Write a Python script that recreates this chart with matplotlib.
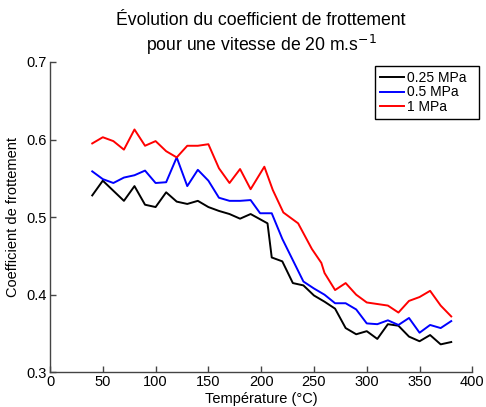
import matplotlib
matplotlib.use('Agg')
import matplotlib.pyplot as plt

plt.rcParams['font.family'] = ['Liberation Sans', 'DejaVu Sans']

# Friction coefficient vs temperature, one series per contact pressure
temp_025 = [40, 50, 60, 70, 80, 90, 100, 110, 120, 130, 140, 150, 160, 170, 180, 190,
            198, 206, 210, 220, 230, 240, 250, 260, 270, 280, 290, 300, 310, 320, 330,
            340, 350, 360, 370, 380]
mu_025 = [0.528, 0.547, 0.534, 0.521, 0.540, 0.516, 0.513, 0.532, 0.520, 0.517, 0.521,
          0.513, 0.508, 0.504, 0.498, 0.504, 0.498, 0.492, 0.448, 0.443, 0.415, 0.412,
          0.399, 0.391, 0.382, 0.357, 0.349, 0.353, 0.343, 0.362, 0.360, 0.346, 0.340,
          0.348, 0.336, 0.339]

temp_05 = [40, 50, 60, 70, 80, 90, 100, 110, 120, 130, 140, 150, 160, 170, 180, 190,
           199, 210, 220, 240, 250, 260, 270, 280, 290, 300, 310, 320, 330, 340, 350,
           360, 370, 380]
mu_05 = [0.559, 0.549, 0.544, 0.551, 0.554, 0.560, 0.544, 0.545, 0.577, 0.540, 0.561,
         0.547, 0.525, 0.521, 0.521, 0.522, 0.505, 0.505, 0.472, 0.417, 0.408, 0.400,
         0.389, 0.389, 0.381, 0.363, 0.362, 0.367, 0.361, 0.370, 0.351, 0.361, 0.357,
         0.366]

temp_1 = [40, 50, 60, 70, 80, 90, 100, 110, 120, 130, 140, 150, 160, 170, 180, 190,
          203, 211, 221, 235, 248, 257, 260, 270, 280, 290, 300, 310, 320, 330, 340,
          350, 360, 370, 380]
mu_1 = [0.595, 0.603, 0.598, 0.587, 0.613, 0.592, 0.598, 0.585, 0.577, 0.592, 0.592,
        0.594, 0.563, 0.544, 0.562, 0.536, 0.565, 0.535, 0.506, 0.492, 0.459, 0.441,
        0.428, 0.406, 0.415, 0.400, 0.390, 0.388, 0.386, 0.377, 0.392, 0.397, 0.405,
        0.386, 0.372]

labels = ['0.25 MPa', '0.5 MPa', '1 MPa']
colors = ['black', 'blue', 'red']

fig = plt.figure(figsize=(4.86, 4.07), dpi=100)
ax = fig.add_axes([0.1029, 0.0853, 0.869, 0.7624])

lines = []
for x, y, c in zip([temp_025, temp_05, temp_1], [mu_025, mu_05, mu_1], colors):
    lines += ax.plot(x, y, color=c, linewidth=1.4)

ax.set_xlim(0, 400)
ax.set_ylim(0.3, 0.7)
ax.set_xticks(range(0, 401, 50))
ax.set_yticks([0.3, 0.4, 0.5, 0.6, 0.7])
ax.set_yticklabels(['0.3', '0.4', '0.5', '0.6', '0.7'])

# box off, inward ticks
ax.spines['top'].set_visible(False)
ax.spines['right'].set_visible(False)
for s in ['left', 'bottom']:
    ax.spines[s].set_color('#444444')
    ax.spines[s].set_linewidth(1.0)
ax.tick_params(direction='in', length=4, width=1.0, color='#444444',
               labelsize=10.5, pad=2)

ax.set_xlabel('Température (°C)', fontsize=10.5, labelpad=2)
ax.set_ylabel('Coefficient de frottement', fontsize=10.5, labelpad=5)
ax.set_title('Évolution du coefficient de frottement\npour une vitesse de 20 m.s$^{-1}$',
             fontsize=12.7, pad=8, linespacing=1.2)

# trailing spaces leave some room on the right of the legend box
leg = ax.legend(lines, [lab + '  ' for lab in labels], loc='upper right',
                bbox_to_anchor=(0.9856, 0.8386), bbox_transform=fig.transFigure,
                borderaxespad=0, fontsize=10, fancybox=False, framealpha=1,
                edgecolor='black', handlelength=1.75, handletextpad=0.2,
                labelspacing=0.06, borderpad=0.35)
leg.get_frame().set_linewidth(1.0)

plt.savefig('out.png', dpi=100)
